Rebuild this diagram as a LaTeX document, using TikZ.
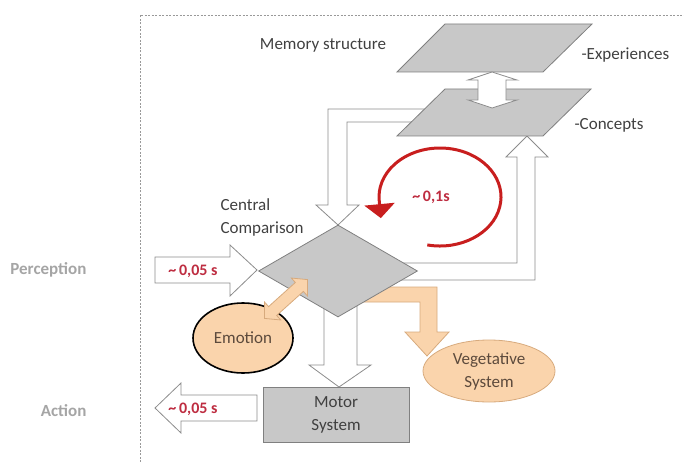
\documentclass[tikz,border=0pt]{standalone}
\usepackage{fontspec}
\setmainfont{Carlito}
\usetikzlibrary{shapes.geometric,arrows.meta,calc}

\definecolor{planegray}{RGB}{200,200,200}
\definecolor{edgegray}{RGB}{128,128,128}
\definecolor{linegray}{RGB}{140,140,140}
\definecolor{labelgray}{RGB}{165,165,165}
\definecolor{textgray}{RGB}{64,64,64}
\definecolor{browntext}{RGB}{92,74,60}
\definecolor{loopred}{RGB}{200,30,30}
\definecolor{timered}{RGB}{190,45,65}
\definecolor{peach}{RGB}{250,212,172}
\definecolor{peachedge}{RGB}{215,170,125}

\begin{document}
\begin{tikzpicture}[
  x=1pt, y=-1pt,
  font=\fontsize{17}{23}\selectfont,
  text=textgray,
  plane/.style={fill=planegray, draw=edgegray, line width=0.8pt},
  hollow/.style={fill=white, draw=linegray, line width=0.8pt},
  warm/.style={fill=peach, draw=peachedge, line width=0.8pt},
  time/.style={text=timered, font=\fontsize{16}{18}\selectfont\bfseries},
  side/.style={text=labelgray, font=\fontsize{17}{20}\selectfont\bfseries, anchor=east},
  frame/.style={draw=gray!80, line width=0.7pt, dash pattern=on 2pt off 1.5pt},
  loop/.style={draw=loopred, line width=3pt, -{Triangle[width=30pt,length=14pt]}}
]
\useasboundingbox (0,0) rectangle (684,462);

\draw[frame] (140,462) -- (140,15) -- (684,15);

% side labels
\node[side] (percLbl) at (90,270) {Perception};
\node[side] (actLbl) at (90,411) {Action};

% ellipses
\node[ellipse, fill=peach, draw=black, line width=1.6pt, minimum width=100pt,
  minimum height=70pt, inner sep=0pt, text=browntext] (emo) at (243,338) {Emotion};
\node[warm, ellipse, minimum width=132pt, minimum height=62pt, inner sep=0pt,
  align=center, text=browntext] (veg) at (489,371) {Vegetative\\System};

% block arrows behind the shapes
\filldraw[hollow] (432,109) -- (328,109) -- (328,205) -- (316,205) -- (338,225)
  -- (359,205) -- (347,205) -- (347,122) -- (432,122);
\filldraw[hollow] (390,263) -- (517,263) -- (517,157) -- (506,157) -- (527,136)
  -- (548,157) -- (535,157) -- (535,280) -- (390,280);
\filldraw[hollow] (324,300) -- (324,365) -- (309,365) -- (339,387) -- (371,365)
  -- (357,365) -- (357,300);
\filldraw[warm] (378,287) -- (437,287) -- (437,332) -- (449,332) -- (427,356)
  -- (405,332) -- (420,332) -- (420,302) -- (358,302);
\filldraw[hollow] (155,257) -- (230,257) -- (230,245) -- (257,270) -- (230,296)
  -- (230,283) -- (155,283) -- cycle;
\filldraw[hollow] (257,395) -- (181,395) -- (181,383) -- (155,408) -- (181,433)
  -- (181,421) -- (257,421) -- cycle;

% memory planes
\filldraw[plane] (397,72) -- (445,24) -- (592,24) -- (543,72) -- cycle;
\filldraw[plane] (397,136) -- (445,89) -- (591,89) -- (543,136) -- cycle;
\filldraw[hollow] (492,72) -- (517,80) -- (506,80) -- (506,100) -- (517,100)
  -- (492,108) -- (468,100) -- (478,100) -- (478,80) -- (468,80) -- cycle;

\node (memLbl) at (323,45) {Memory structure};
\node[anchor=west] (expLbl) at (578,55) {-Experiences};
\node[anchor=west] (cptLbl) at (571,125) {-Concepts};

% comparison and motor
\node[plane, diamond, minimum width=159pt, minimum height=92pt, inner sep=0pt] (cmp) at (338,271) {};
\node[plane, minimum width=146pt, minimum height=55pt, align=center] (motor) at (336,414.5) {Motor\\System};
\node[align=left, anchor=west] (cmpLbl) at (217,217) {Central\\Comparison};

\begin{scope}[shift={(286,299)}, rotate=42]
  \filldraw[warm] (-29,0) -- (-18,-12) -- (-18,-6) -- (18,-6) -- (18,-12) -- (29,0)
    -- (18,12) -- (18,6) -- (-18,6) -- (-18,12) -- cycle;
\end{scope}

% red loop
\draw[loop] ($(440,197)+(-102:61pt and 49pt)$) arc[start angle=-102, end angle=186, x radius=61pt, y radius=49pt]
  -- ++(1.5,16);

\node[time] (loopTime) at (431,197) {\textasciitilde\,0,1s};
\node[time] (inTime) at (193,271) {\textasciitilde\,0,05 s};
\node[time] (outTime) at (193,409) {\textasciitilde\,0,05 s};

\end{tikzpicture}
\end{document}
